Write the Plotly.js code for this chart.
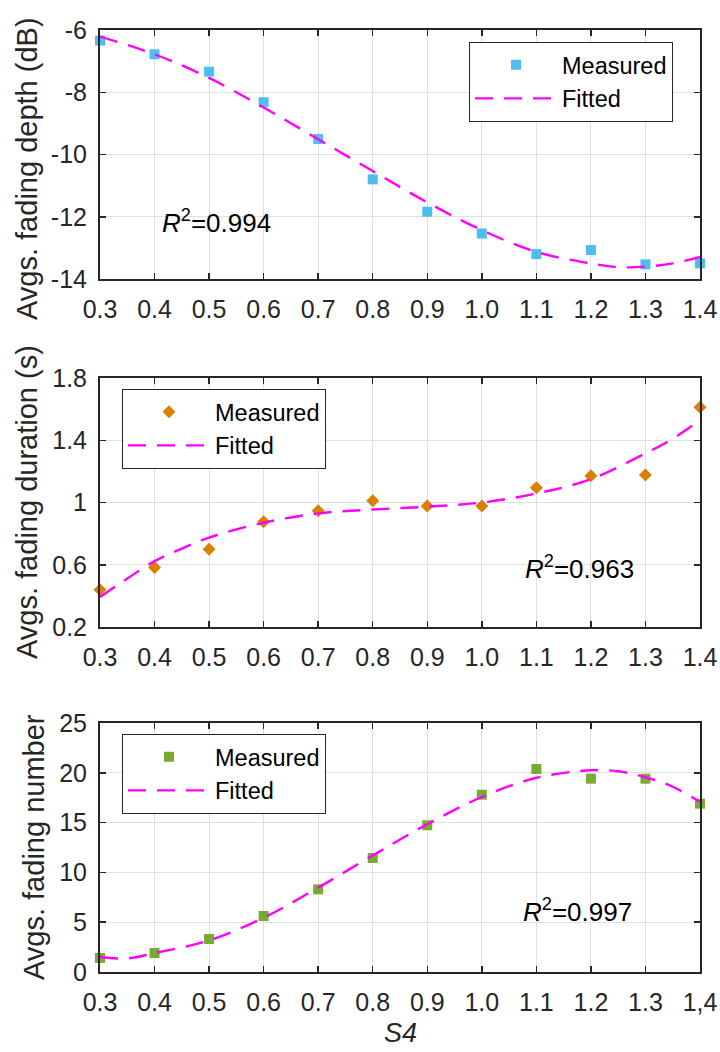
<!DOCTYPE html>
<html>
<head>
<meta charset="utf-8">
<script src="https://cdn.plot.ly/plotly-3.0.1.min.js"></script>
<style>html,body{margin:0;padding:0;background:#fff;}#chart{width:720px;height:1052px;}</style>
</head>
<body>
<div id="chart"></div>
<script>
// ---- data ----
const s4 = [0.3, 0.4, 0.5, 0.6, 0.7, 0.8, 0.9, 1.0, 1.1, 1.2, 1.3, 1.4];
const xTickText = ["0.3","0.4","0.5","0.6","0.7","0.8","0.9","1.0","1.1","1.2","1.3","1.4"];
const xTickTextBottom = ["0.3","0.4","0.5","0.6","0.7","0.8","0.9","1.0","1.1","1.2","1.3","1,4"];

const depthMeasured = [-6.34, -6.78, -7.34, -8.32, -9.50, -10.80, -11.84, -12.54, -13.20, -13.07, -13.53, -13.50];
const depthFitX = [0.3, 0.4, 0.5, 0.6, 0.7, 0.8, 0.9, 1.0, 1.1, 1.2, 1.25, 1.3, 1.35, 1.4];
const depthFitY = [-6.21, -6.78, -7.54, -8.49, -9.51, -10.53, -11.54, -12.43, -13.13, -13.50, -13.62, -13.60, -13.50, -13.29];

const durMeasured = [0.44, 0.582, 0.70, 0.876, 0.947, 1.011, 0.977, 0.977, 1.095, 1.172, 1.176, 1.612];
const durFitX = [0.3, 0.35, 0.4, 0.45, 0.5, 0.6, 0.7, 0.8, 0.9, 1.0, 1.1, 1.2, 1.3, 1.35, 1.4];
const durFitY = [0.393, 0.511, 0.623, 0.704, 0.775, 0.87, 0.93, 0.955, 0.973, 1.0, 1.058, 1.15, 1.316, 1.41, 1.53];

const numMeasured = [1.41, 1.91, 3.31, 5.62, 8.30, 11.45, 14.73, 17.80, 20.38, 19.41, 19.41, 16.90];
const numFitX = [0.3, 0.35, 0.4, 0.5, 0.6, 0.7, 0.8, 0.9, 1.0, 1.1, 1.2, 1.25, 1.3, 1.35, 1.4];
const numFitY = [1.5, 1.37, 1.9, 3.18, 5.45, 8.47, 11.7, 14.83, 17.57, 19.5, 20.25, 20.15, 19.55, 18.6, 17.07];

const depthTicks = [-14, -12, -10, -8, -6];
const durTicks = [0.2, 0.6, 1.0, 1.4, 1.8];
const durTickText = ["0.2", "0.6", "1", "1.4", "1.8"];
const numTicks = [0, 5, 10, 15, 20, 25];

const yTitles = ["Avgs. fading depth (dB)", "Avgs. fading duration (s)", "Avgs. fading number"];
const r2Labels = ["0.994", "0.963", "0.997"];

// ---- styling ----
const W = 720, H = 1052;
const FONT = "Liberation Sans, Arial, Helvetica, sans-serif";
const INK = "#262626";
const px = v => v / W;
const py = v => 1 - v / H;

const fitLine = {color: "#FF00FF", width: 2.4, dash: "18px,11px"};

const traces = [
  {x: s4, y: depthMeasured, xaxis: "x", yaxis: "y", mode: "markers", name: "Measured", legend: "legend",
   marker: {symbol: "square", size: 10, color: "#4DBEEE"}, cliponaxis: false},
  {x: depthFitX, y: depthFitY, xaxis: "x", yaxis: "y", mode: "lines", name: "Fitted", legend: "legend",
   line: Object.assign({shape: "spline"}, fitLine), cliponaxis: false},
  {x: s4, y: durMeasured, xaxis: "x2", yaxis: "y2", mode: "markers", name: "Measured", legend: "legend2",
   marker: {symbol: "diamond", size: 10, color: "#D98000"}, cliponaxis: false},
  {x: durFitX, y: durFitY, xaxis: "x2", yaxis: "y2", mode: "lines", name: "Fitted", legend: "legend2",
   line: Object.assign({shape: "spline"}, fitLine), cliponaxis: false},
  {x: s4, y: numMeasured, xaxis: "x3", yaxis: "y3", mode: "markers", name: "Measured", legend: "legend3",
   marker: {symbol: "square", size: 10, color: "#77AC30"}, cliponaxis: false},
  {x: numFitX, y: numFitY, xaxis: "x3", yaxis: "y3", mode: "lines", name: "Fitted", legend: "legend3",
   line: Object.assign({shape: "spline"}, fitLine), cliponaxis: false}
];

function xAxis(anchor, ticktext) {
  return {
    domain: [px(100), px(700)], anchor: anchor, range: [0.3, 1.4],
    tickmode: "array", tickvals: s4, ticktext: ticktext,
    ticks: "inside", ticklen: 6, tickwidth: 1.5, tickcolor: INK,
    showline: true, linecolor: INK, linewidth: 2, mirror: "ticks",
    showgrid: true, gridcolor: "#e0e0e0", gridwidth: 1, zeroline: false,
    tickfont: {family: FONT, size: 25, color: INK},
    ticklabelstandoff: 7, ticklabeloverflow: "allow", automargin: false
  };
}
function yAxis(anchor, dom, range, vals, text) {
  return {
    domain: dom, anchor: anchor, range: range,
    tickmode: "array", tickvals: vals, ticktext: text,
    ticks: "inside", ticklen: 6, tickwidth: 1.5, tickcolor: INK,
    showline: true, linecolor: INK, linewidth: 2, mirror: "ticks",
    showgrid: true, gridcolor: "#e0e0e0", gridwidth: 1, zeroline: false,
    tickfont: {family: FONT, size: 25, color: INK},
    ticklabelstandoff: 6, ticklabeloverflow: "allow", automargin: false
  };
}
function legendAt(xPix, yPix) {
  return {
    x: px(xPix), y: py(yPix), xanchor: "left", yanchor: "top",
    bgcolor: "#ffffff", bordercolor: INK, borderwidth: 1,
    font: {family: FONT, size: 23.5, color: "#000000"},
    itemwidth: 82, tracegroupgap: 0, traceorder: "normal"
  };
}

const annotations = [
  {text: yTitles[0], x: px(27), y: py(169), textangle: -90},
  {text: yTitles[1], x: px(27), y: py(502), textangle: -90},
  {text: yTitles[2], x: px(34), y: py(847), textangle: -90}
].map(a => Object.assign({xref: "paper", yref: "paper", showarrow: false, xanchor: "center", yanchor: "middle",
  font: {family: FONT, size: 29, color: INK}}, a));

[[216, 222], [579, 567], [577, 910]].forEach((p, i) => {
  annotations.push({text: "<i>R</i><sup>2</sup>=" + r2Labels[i], xref: "paper", yref: "paper",
    x: px(p[0]), y: py(p[1]), showarrow: false, xanchor: "center", yanchor: "middle",
    font: {family: FONT, size: 26, color: "#000000"}});
});
annotations.push({text: "<i>S4</i>", xref: "paper", yref: "paper", x: px(400), y: py(1033),
  showarrow: false, xanchor: "center", yanchor: "middle", font: {family: FONT, size: 27, color: INK}});

const layout = {
  width: W, height: H, margin: {l: 0, r: 0, t: 0, b: 0, pad: 0},
  paper_bgcolor: "#ffffff", plot_bgcolor: "#ffffff",
  showlegend: true,
  xaxis: xAxis("y", xTickText),
  yaxis: yAxis("x", [py(279), py(30)], [-14, -6], depthTicks, depthTicks.map(String)),
  xaxis2: xAxis("y2", xTickText),
  yaxis2: yAxis("x2", [py(627), py(378)], [0.2, 1.8], durTicks, durTickText),
  xaxis3: xAxis("y3", xTickTextBottom),
  yaxis3: yAxis("x3", [py(972), py(723)], [0, 25], numTicks, numTicks.map(String)),
  legend: legendAt(469, 42),
  legend2: legendAt(122, 389),
  legend3: legendAt(122, 734),
  annotations: annotations
};

Plotly.newPlot("chart", traces, layout, {displayModeBar: false, staticPlot: true});
</script>
</body>
</html>
